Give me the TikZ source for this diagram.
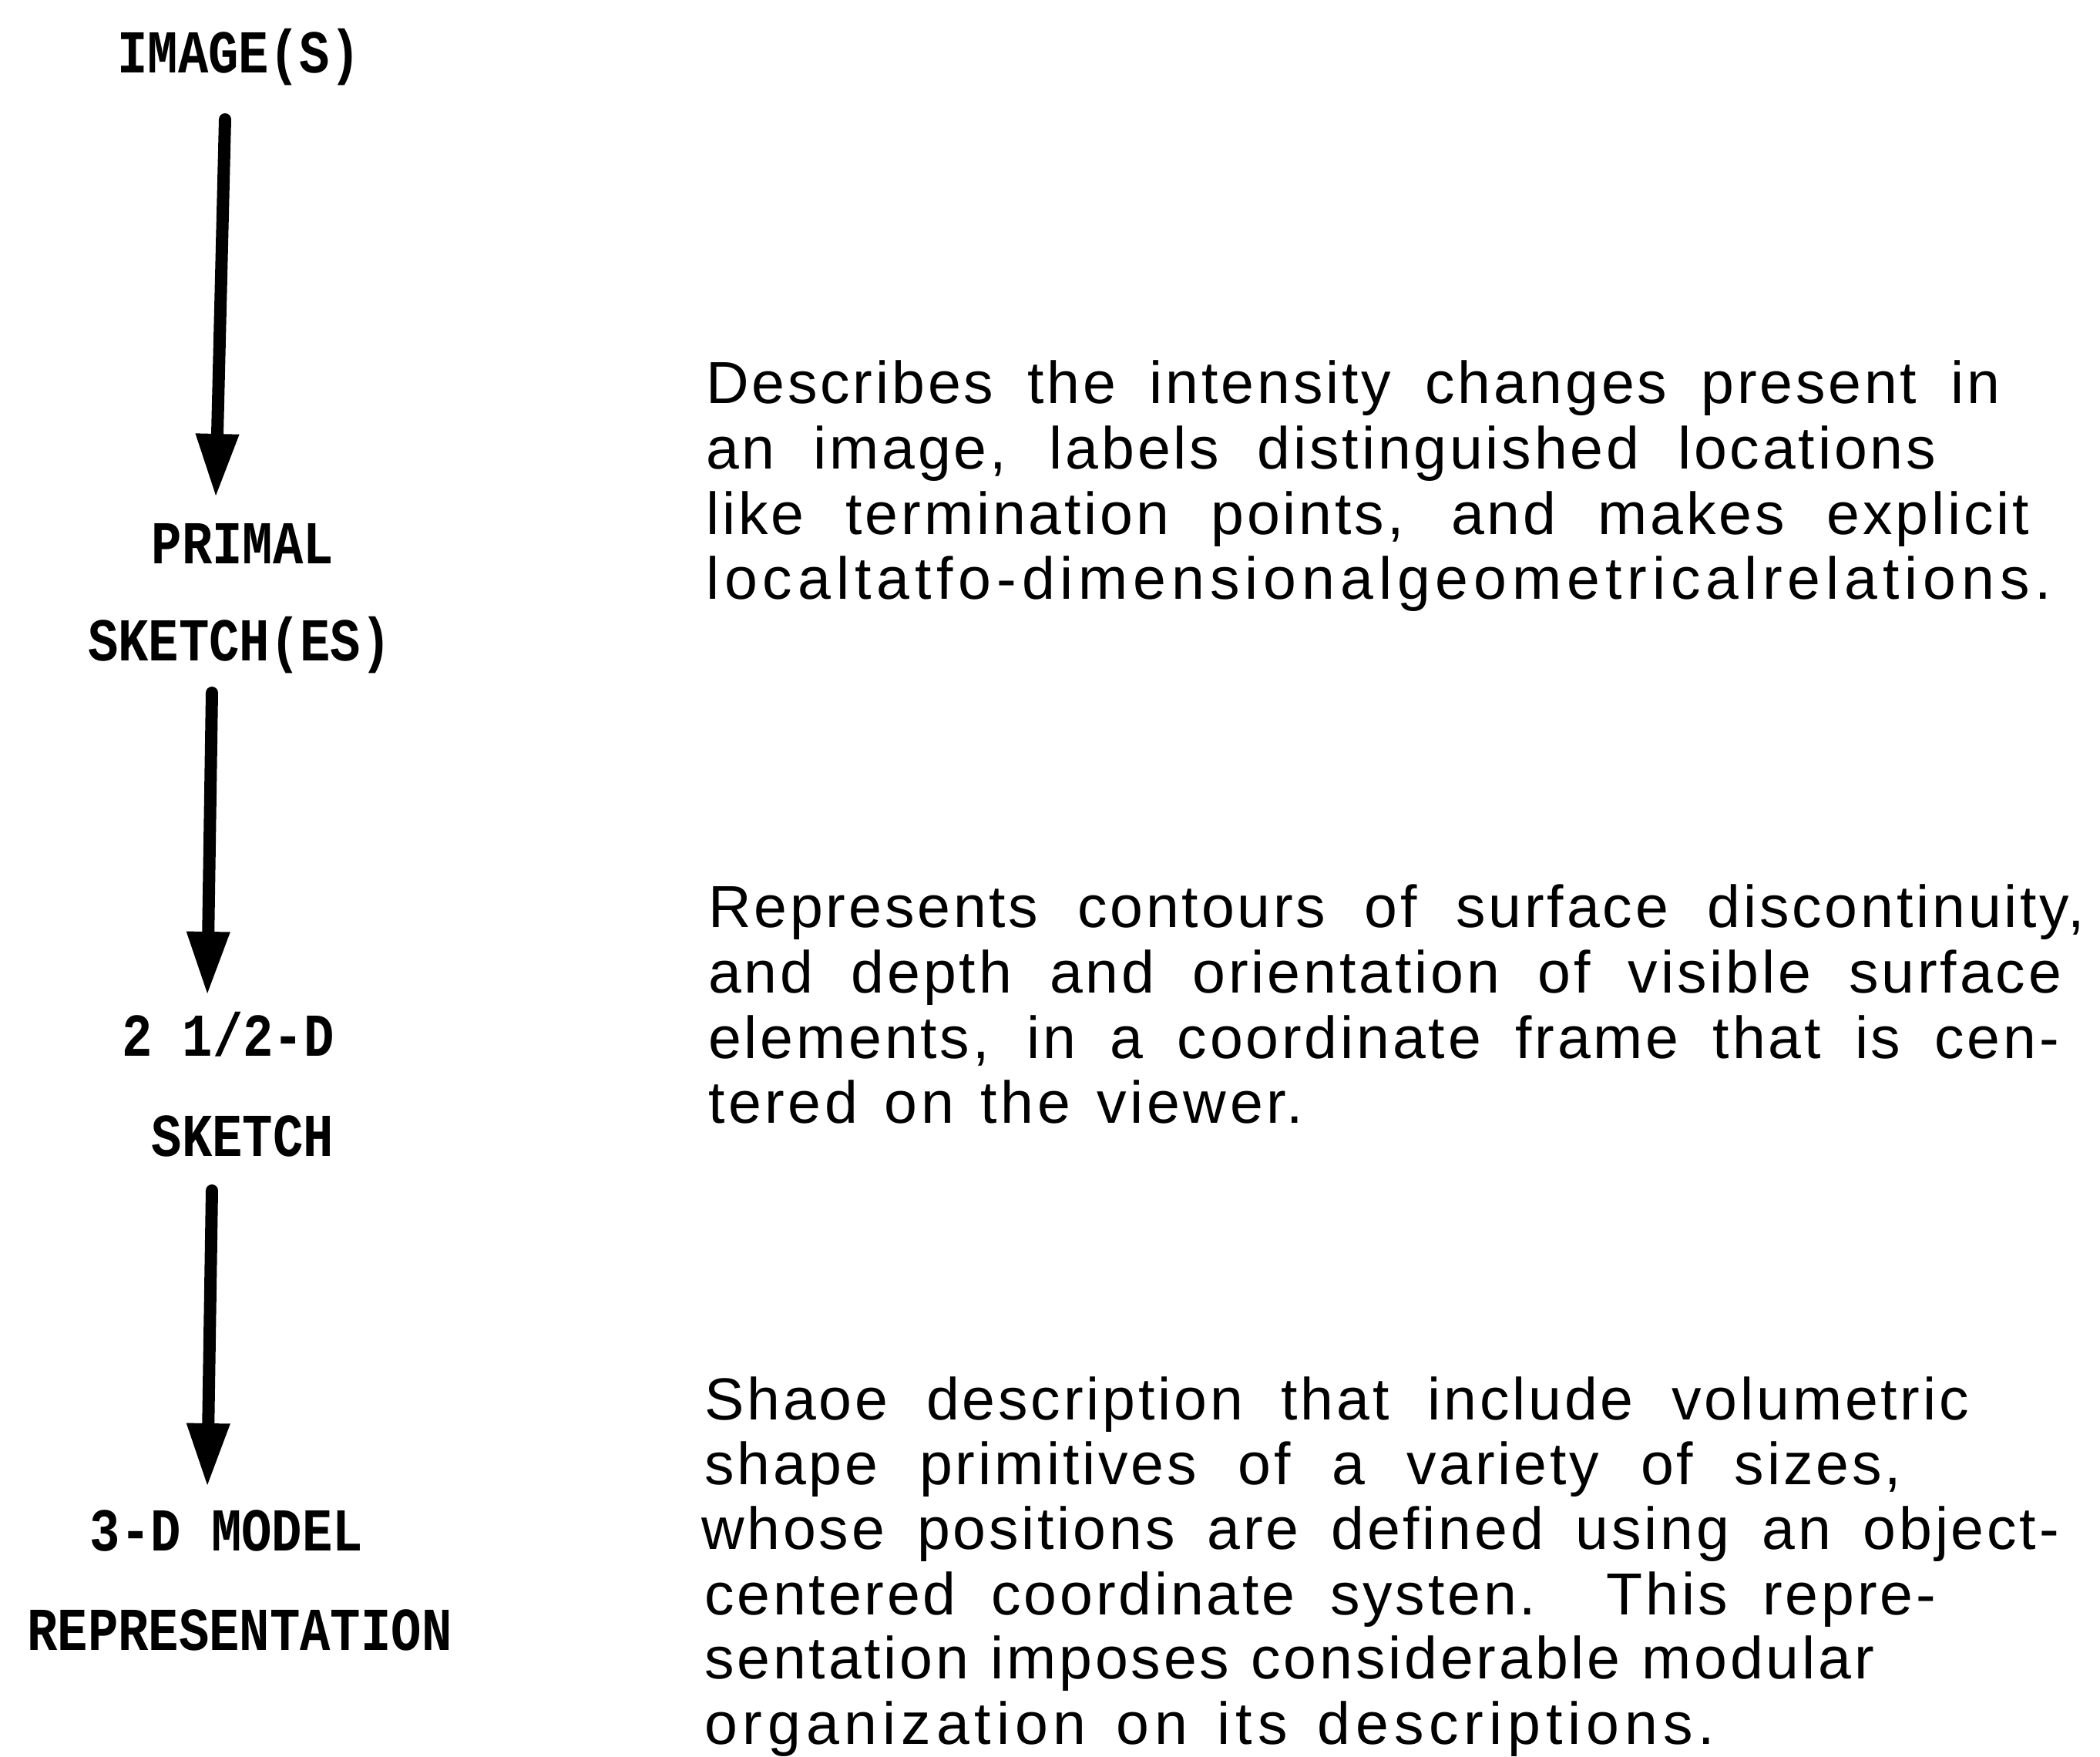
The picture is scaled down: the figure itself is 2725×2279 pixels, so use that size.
\documentclass[tikz,border=0pt]{standalone}
\usepackage{fontspec}
\setmainfont{Liberation Sans}
\newfontfamily\descfont[LetterSpace=5]{Liberation Sans}
\newfontfamily\descmid[LetterSpace=6]{Liberation Sans}
\newfontfamily\descwide[LetterSpace=9]{Liberation Sans}
\newfontfamily\typew[FakeStretch=0.83]{Liberation Mono}
\usetikzlibrary{arrows.meta}
\begin{document}
\begin{tikzpicture}[x=1pt,y=-1pt,
  lab/.style={font=\typew\bfseries\fontsize{79}{85}\selectfont, inner sep=0pt, anchor=base},
  desc/.style={inner sep=0pt, anchor=base west, font=\descfont\fontsize{77}{85}\selectfont},
  descm/.style={desc, font=\descmid\fontsize{77}{85}\selectfont},
  descw/.style={desc, font=\descwide\fontsize{77}{85}\selectfont},
  flow/.style={line width=16pt, line cap=round, -{Triangle[width=52pt,length=83pt]}}]
\useasboundingbox (0,0) rectangle (2725,2279);
% left column labels
\node[lab] (img)    at (310,94)   {IMAGE(S)};
\node[lab] (prim1)  at (315,731)  {PRIMAL};
\node[lab] (prim2)  at (311,857)  {SKETCH(ES)};
\node[lab] (two1)   at (296,1370) {2 1/2-D};
\node[lab] (two2)   at (315,1500) {SKETCH};
\node[lab] (three1) at (294,2012) {3-D MODEL};
\node[lab] (three2) at (311,2141) {REPRESENTATION};
% arrows
\coordinate (a1s) at (292,155);  \coordinate (a1e) at (280,646);
\coordinate (a2s) at (275,899);  \coordinate (a2e) at (269,1292);
\coordinate (a3s) at (275,1545); \coordinate (a3e) at (269,1930);
\draw[flow] (a1s) -- (a1e);
\draw[flow] (a2s) -- (a2e);
\draw[flow] (a3s) -- (a3e);
% block 1
\node[desc] (d1a) at (916,523) {\hbox to 1679pt{Describes the intensity changes present in}};
\node[desc] (d1b) at (916,608) {\hbox to 1596pt{an image, labels distinguished locations}};
\node[desc] (d1c) at (916,693) {\hbox to 1717pt{like termination points, and makes explicit}};
\node[descw] (d1d) at (916,777) {localtatfo-dimensionalgeometricalrelations.};
% block 2
\node[desc] (d2a) at (919,1203) {\hbox to 1786pt{Represents contours of surface discontinuity,}};
\node[desc] (d2b) at (919,1288) {\hbox to 1756pt{and depth and orientation of visible surface}};
\node[desc] (d2c) at (919,1373) {\hbox to 1753pt{elements, in a coordinate frame that is cen-}};
\node[descm] (d2d) at (919,1457) {\hbox to 772pt{tered on the viewer.}};
% block 3
\node[desc] (d3a) at (914,1842) {\hbox to 1641pt{Shaoe description that include volumetric}};
\node[desc] (d3b) at (914,1926) {\hbox to 1553pt{shape primitives of a variety of sizes,}};
\node[desc] (d3c) at (910,2010) {\hbox to 1762pt{whose positions are defined using an object-}};
\node[desc] (d3d) at (914,2095) {\hbox to 1598pt{centered coordinate systen.\ \ This repre-}};
\node[desc] (d3e) at (914,2178) {\hbox to 1518pt{sentation imposes considerable modular}};
\node[descw] (d3f) at (914,2263) {\hbox to 1311pt{organization on its descriptions.}};
\end{tikzpicture}
\end{document}
